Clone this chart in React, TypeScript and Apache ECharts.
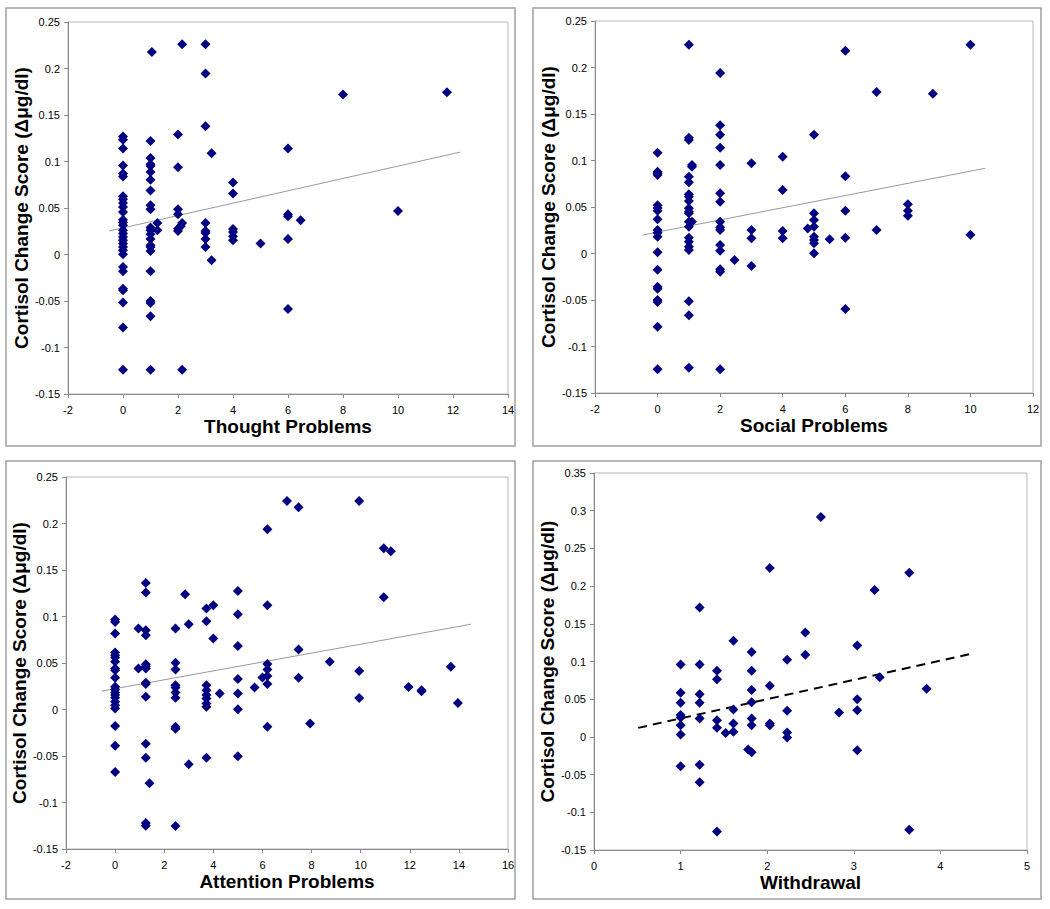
import React, { useEffect, useRef } from "react";
import * as echarts from "echarts";

// Column groups: [x, [y values...]]
const thoughtCols: [number, number[]][] = [
  [0, [0.127, 0.1235, 0.114, 0.0956, 0.087, 0.0838, 0.0626, 0.0594, 0.0554, 0.0511, 0.0457, 0.0375, 0.0346, 0.0314, 0.026, 0.0225, 0.0188, 0.0153, 0.0117, 0.0081, 0.0045, 0.0002, -0.0134, -0.018, -0.0367, -0.0385, -0.0517, -0.0786, -0.1238]],
  [1, [0.122, 0.1038, 0.097, 0.0952, 0.0887, 0.0805, 0.0687, 0.0529, 0.0486, 0.0289, 0.026, 0.0217, 0.0167, 0.0099, 0.0081, 0.0038, -0.018, -0.05, -0.0521, -0.0665, -0.1238]],
  [1.05, [0.2177]],
  [1.25, [0.0339, 0.026]],
  [2, [0.129, 0.0938, 0.0486, 0.0432, 0.0278, 0.0253]],
  [2.1, [0.0303]],
  [2.15, [0.226, 0.0339, -0.1238]],
  [3, [0.226, 0.1945, 0.138, 0.0339, 0.0253, 0.0232, 0.0167, 0.0081]],
  [3.22, [0.1088, -0.0063]],
  [4, [0.0773, 0.0655, 0.0274, 0.0242, 0.0196, 0.0153]],
  [5, [0.0117]],
  [6, [0.114, 0.0432, 0.041, 0.0167, -0.0586]],
  [6.46, [0.0368]],
  [8, [0.172]],
  [10, [0.0468]],
  [11.78, [0.1744]],
];

const socialCols: [number, number[]][] = [
  [0, [0.1084, 0.088, 0.0862, 0.0844, 0.052, 0.049, 0.046, 0.0368, 0.0253, 0.0224, 0.0181, 0.0013, -0.0174, -0.0357, -0.0378, -0.05, -0.0522, -0.0787, -0.1245]],
  [1, [0.2245, 0.1245, 0.122, 0.0826, 0.0765, 0.0636, 0.0611, 0.0565, 0.0486, 0.045, 0.0432, 0.0342, 0.0288, 0.017, 0.0127, 0.0073, 0.0038, -0.0514, -0.0665, -0.1228]],
  [1.1, [0.0952, 0.0934, 0.0342]],
  [2, [0.1941, 0.1378, 0.1278, 0.1138, 0.0952, 0.0647, 0.0557, 0.0342, 0.0282, 0.0253, 0.0091, 0.003, -0.017, -0.0195, -0.1245]],
  [2.46, [-0.007]],
  [3, [0.097, 0.0253, 0.0163, -0.0134]],
  [4, [0.104, 0.0683, 0.0242, 0.0163]],
  [4.8, [0.027]],
  [5, [0.1278, 0.0432, 0.036, 0.0288, 0.018, 0.0145, 0.011, 0.0002]],
  [5.5, [0.0153]],
  [6, [0.218, 0.083, 0.046, 0.017, -0.0597]],
  [7, [0.1737, 0.0253]],
  [8, [0.0529, 0.046, 0.0406]],
  [8.8, [0.1718]],
  [10, [0.2245, 0.0202]],
];

const attentionCols: [number, number[]][] = [
  [0, [0.0968, 0.0942, 0.0818, 0.0613, 0.0584, 0.056, 0.0513, 0.0441, 0.0423, 0.0341, 0.0244, 0.0216, 0.0184, 0.0155, 0.0126, 0.0083, 0.0047, 0.0011, -0.0178, -0.039, -0.0673]],
  [0.95, [0.0871, 0.0441]],
  [1.25, [0.136, 0.1258, 0.0853, 0.0799, 0.0487, 0.0466, 0.0441, 0.0287, 0.0273, 0.0136, -0.0369, -0.0519, -0.122, -0.125]],
  [1.4, [-0.0794]],
  [2.46, [0.0871, 0.0502, 0.0431, 0.0262, 0.0237, 0.0184, 0.0126, -0.0186, -0.0207, -0.1253]],
  [2.85, [0.124]],
  [3.0, [0.0917, -0.059]],
  [3.72, [0.1086, 0.095, 0.0262, 0.0208, 0.0155, 0.0119, 0.0065, 0.0029, -0.0519]],
  [4.0, [0.112, 0.0764]],
  [4.26, [0.0173]],
  [5, [0.1275, 0.1025, 0.0684, 0.0327, 0.0173, 0.0004, -0.0504]],
  [5.68, [0.0237]],
  [6.0, [0.0345]],
  [6.2, [0.1938, 0.1122, 0.0488, 0.0431, 0.0359, 0.0273, -0.0186]],
  [7, [0.2242]],
  [7.47, [0.2174, 0.0646, 0.0341]],
  [7.94, [-0.015]],
  [8.74, [0.0513]],
  [9.94, [0.2242, 0.0413, 0.0123]],
  [10.94, [0.1734, 0.1208]],
  [11.23, [0.1702]],
  [11.95, [0.0241]],
  [12.48, [0.0208, 0.0195]],
  [13.67, [0.0459]],
  [13.96, [0.0069]],
];

const withdrawalCols: [number, number[]][] = [
  [1, [0.096, 0.0587, 0.0453, 0.0289, 0.0258, 0.0156, 0.0031, -0.039]],
  [1.22, [0.1716, 0.096, 0.0565, 0.0453, 0.0245, -0.0368, -0.06]],
  [1.42, [0.0876, 0.0765, 0.0222, 0.012, -0.1253]],
  [1.52, [0.0053]],
  [1.61, [0.1276, 0.0365, 0.0178, 0.0067]],
  [1.78, [-0.0168]],
  [1.82, [0.1125, 0.0876, 0.0623, 0.0459, 0.0245, 0.0156, -0.0204]],
  [2.03, [0.224, 0.068, 0.0178, 0.0156]],
  [2.23, [0.1023, 0.0347, 0.0058, -0.0009]],
  [2.44, [0.1383, 0.109]],
  [2.62, [0.2916]],
  [2.83, [0.0325]],
  [3.04, [0.1213, 0.0498, 0.0352, -0.0178]],
  [3.24, [0.1947]],
  [3.3, [0.0792]],
  [3.64, [0.2178, -0.1231]],
  [3.84, [0.064]],
];

const thoughtTrend = [[-0.5, 0.0253], [12.25, 0.11]];
const socialTrend = [[-0.47, 0.0199], [10.47, 0.0916]];
const attentionTrend = [[-0.54, 0.0198], [14.49, 0.0917]];
const withdrawalTrend = [[0.51, 0.012], [4.35, 0.11]];

const xTitles = ["Thought Problems", "Social Problems", "Attention Problems", "Withdrawal"];
const yTitle = "Cortisol Change Score (\u0394\u03bcg/dl)";

const flatten = (cols: [number, number[]][]) =>
  cols.flatMap(([x, ys]) => ys.map((y) => [x, y]));

const FONT = "Arial, 'Liberation Sans', sans-serif";

export default function App() {
  const ref = useRef<HTMLDivElement>(null);
  useEffect(() => {
    if (!ref.current) return;
    const chart = echarts.init(ref.current, undefined, { renderer: "svg" });

    const grids = [
      { left: 68, top: 22, width: 440, height: 372 },
      { left: 595, top: 21, width: 438, height: 372 },
      { left: 66, top: 477, width: 442, height: 372 },
      { left: 594, top: 473, width: 433, height: 377 },
    ].map((g) => ({ ...g, show: true, borderColor: "#b8b8b8", borderWidth: 1, backgroundColor: "transparent" }));

    const xRanges = [
      { min: -2, max: 14, interval: 2 },
      { min: -2, max: 12, interval: 2 },
      { min: -2, max: 16, interval: 2 },
      { min: 0, max: 5, interval: 1 },
    ];
    const yRanges = [
      { min: -0.15, max: 0.25, interval: 0.05 },
      { min: -0.15, max: 0.25, interval: 0.05 },
      { min: -0.15, max: 0.25, interval: 0.05 },
      { min: -0.15, max: 0.35, interval: 0.05 },
    ];

    const axisLine = { show: true, onZero: false, lineStyle: { color: "#8a8a8a", width: 1 } };
    const axisTick = { show: true, inside: false, length: 4, lineStyle: { color: "#8a8a8a" } };

    const xAxis = xRanges.map((r, i) => ({
      type: "value",
      gridIndex: i,
      ...r,
      name: xTitles[i],
      nameLocation: "middle",
      nameGap: 23,
      nameTextStyle: { fontFamily: FONT, fontWeight: "bold", fontSize: 19, color: "#000" },
      axisLine,
      axisTick,
      splitLine: { show: false },
      axisLabel: { fontFamily: FONT, fontSize: 11, color: "#000", margin: 10 },
    }));
    const yAxis = yRanges.map((r, i) => ({
      type: "value",
      gridIndex: i,
      ...r,
      name: yTitle,
      nameLocation: "middle",
      nameGap: i === 3 ? 34 : 36,
      nameTextStyle: { fontFamily: FONT, fontWeight: "bold", fontSize: 19, color: "#000" },
      axisLine,
      axisTick,
      splitLine: { show: false },
      axisLabel: {
        fontFamily: FONT,
        fontSize: 11,
        color: "#000",
        margin: 8,
        formatter: (v: number) => String(Math.round(v * 100) / 100),
      },
    }));

    const allCols = [thoughtCols, socialCols, attentionCols, withdrawalCols];
    const trends = [thoughtTrend, socialTrend, attentionTrend, withdrawalTrend];

    const series: any[] = [];
    allCols.forEach((cols, i) => {
      series.push({
        type: "line",
        xAxisIndex: i,
        yAxisIndex: i,
        data: trends[i],
        symbol: "none",
        silent: true,
        lineStyle:
          i === 3
            ? { color: "#000", width: 2, type: [9, 6] }
            : { color: "#9a9a9a", width: 1 },
        z: 1,
      });
      series.push({
        type: "scatter",
        xAxisIndex: i,
        yAxisIndex: i,
        data: flatten(cols),
        symbol: "diamond",
        symbolSize: 10,
        itemStyle: { color: "#000080", opacity: 1 },
        z: 2,
      });
    });

    const panels = [
      { x: 6, y: 8, width: 509, height: 438 },
      { x: 533, y: 8, width: 508, height: 438 },
      { x: 6, y: 461, width: 509, height: 438 },
      { x: 533, y: 461, width: 508, height: 438 },
    ];

    chart.setOption({
      animation: false,
      backgroundColor: "#fff",
      graphic: panels.map((p) => ({
        type: "rect",
        shape: p,
        style: { fill: "none", stroke: "#a0a0a0", lineWidth: 1.5 },
        silent: true,
        z: -10,
      })),
      grid: grids,
      xAxis,
      yAxis,
      series,
    });
    return () => chart.dispose();
  }, []);
  return (
    <div
      ref={ref}
      style={{ position: "absolute", left: 0, top: 0, width: 1050, height: 909, background: "#fff" }}
    />
  );
}
